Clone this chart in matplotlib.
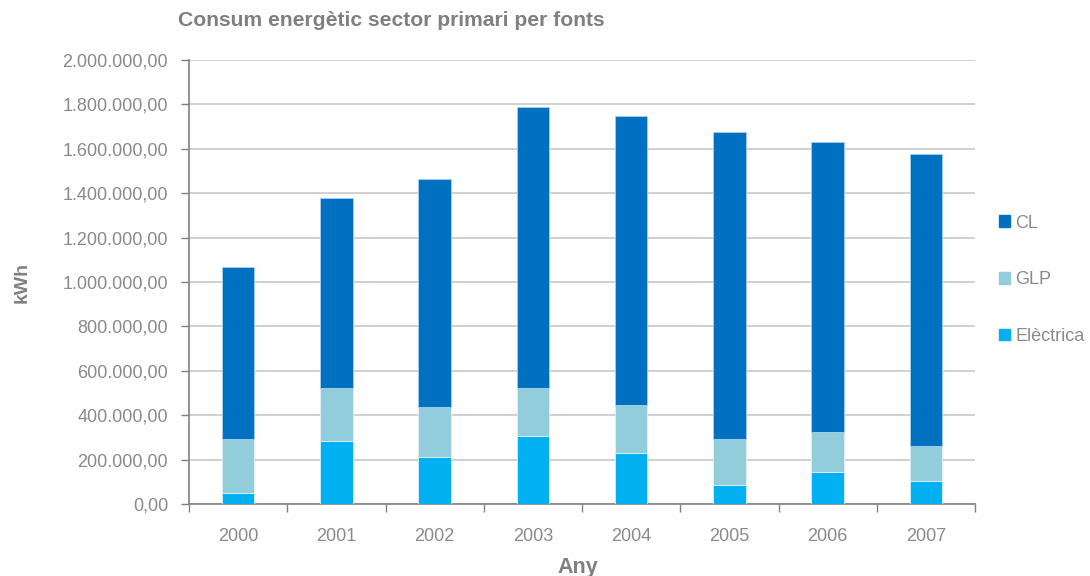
import matplotlib.pyplot as plt
from matplotlib.patches import Patch
import numpy as np

# --- dades ---
anys = ['2000', '2001', '2002', '2003', '2004', '2005', '2006', '2007']
electrica = [50000, 284000, 210000, 306000, 228000, 86000, 143000, 104000]
glp = [244000, 239000, 227000, 217000, 219000, 208000, 180000, 157000]
cl = [772000, 855000, 1026000, 1264000, 1301000, 1380000, 1306000, 1317000]

COL_CL = '#0070C0'
COL_GLP = '#92CDDC'
COL_ELEC = '#00B0F0'
GRIS = '#808080'

plt.rcParams['font.family'] = ['Liberation Sans', 'DejaVu Sans']

fig, ax = plt.subplots(figsize=(10.9, 5.76), dpi=100)
fig.subplots_adjust(left=0.1734, right=0.8945, bottom=0.125, top=0.8958)

x = np.arange(len(anys))
amplada = 0.33
base_glp = np.array(electrica)
base_cl = base_glp + np.array(glp)

ax.bar(x, electrica, amplada, color=COL_ELEC, edgecolor='#d8f0fa', linewidth=0.6, zorder=3)
ax.bar(x, glp, amplada, bottom=base_glp, color=COL_GLP, edgecolor='#e0f0f5', linewidth=0.6, zorder=3)
ax.bar(x, cl, amplada, bottom=base_cl, color=COL_CL, edgecolor='#a8d0f0', linewidth=0.6, zorder=3)

ax.set_xlim(-0.5, len(anys) - 0.5)
ax.set_ylim(0, 2000000)
ax.set_yticks(np.arange(0, 2000001, 200000))
ax.set_yticklabels([f'{v:,.2f}'.replace(',', 'X').replace('.', ',').replace('X', '.') for v in range(0, 2000001, 200000)])
ax.yaxis.grid(True, color='#c8c8c8', linewidth=1.2, zorder=0)

ax.set_xticks(x)
ax.set_xticklabels(anys)
ax.set_xticks(np.arange(-0.5, len(anys)), minor=True)
ax.tick_params(axis='x', which='major', length=0, pad=17, labelsize=13, labelcolor='#8a8a8a')
ax.tick_params(axis='x', which='minor', length=6, color=GRIS, width=1)
ax.tick_params(axis='y', length=6, color=GRIS, width=1, labelsize=13, labelcolor='#8a8a8a', pad=9)

for s in ['top', 'right']:
    ax.spines[s].set_visible(False)
for s in ['left', 'bottom']:
    ax.spines[s].set_color(GRIS)
    ax.spines[s].set_linewidth(1.2)

fig.text(178 / 1090, 1 - 20 / 576, 'Consum energètic sector primari per fonts',
         fontsize=15.2, fontweight='bold', color=GRIS, va='center', ha='left')
fig.text(22 / 1090, 1 - 282 / 576, 'kWh', fontsize=14, fontweight='bold', color=GRIS,
         rotation=90, va='center', ha='center')
fig.text(578 / 1090, 1 - 567 / 576, 'Any', fontsize=15.5, fontweight='bold', color=GRIS,
         va='center', ha='center')

handles = [Patch(color=COL_CL, label='CL'),
           Patch(color=COL_GLP, label='GLP'),
           Patch(color=COL_ELEC, label='Elèctrica')]
leg = fig.legend(handles=handles, loc='upper left', bbox_to_anchor=(0.91, 0.64),
                 frameon=False, fontsize=13, handlelength=0.6, handleheight=0.6,
                 handletextpad=0.3, labelspacing=2.2, borderaxespad=0)
for t in leg.get_texts():
    t.set_color('#8a8a8a')

fig.savefig('out.png', dpi=100)
